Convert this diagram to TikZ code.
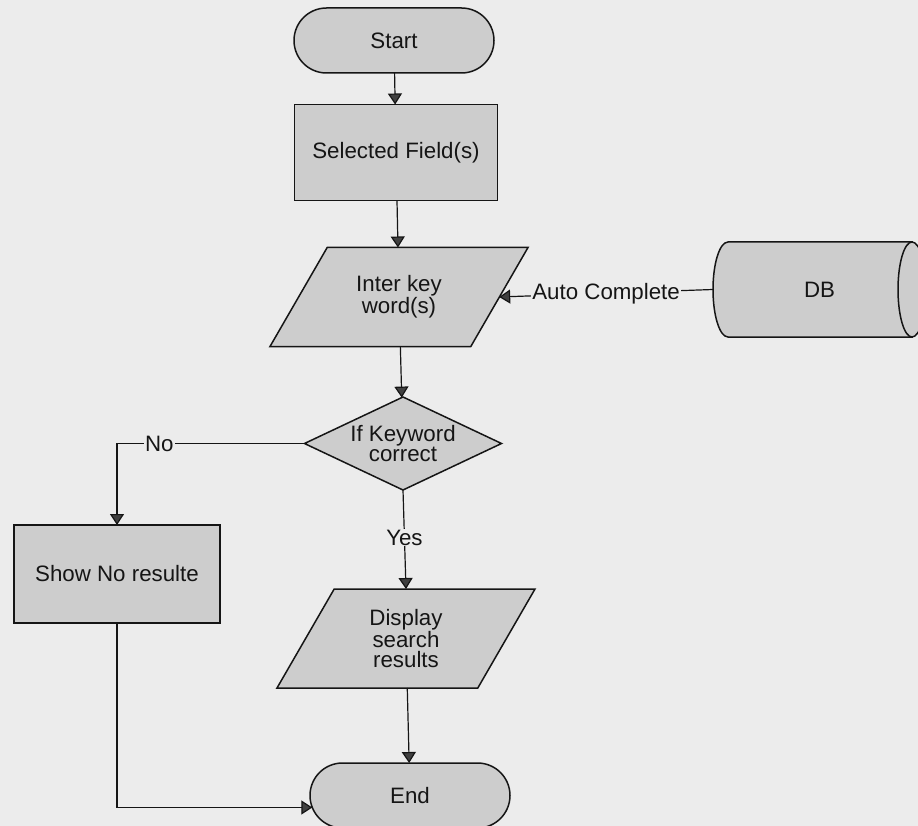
\documentclass[tikz,border=0pt]{standalone}
\usepackage{fontspec}
\setmainfont{Liberation Sans}
\usetikzlibrary{shapes.geometric,shapes.misc,arrows.meta,calc}
\definecolor{paper}{HTML}{ECECEC}
\definecolor{boxfill}{HTML}{CDCDCD}
\definecolor{ink}{HTML}{151515}
\definecolor{tipfill}{HTML}{404040}
% slanted input/output box: name, centre x, centre y, text
\newcommand\ioshape[4]{%
  \path[shp] (#2-71.8,#3-49.5) -- (#2+129,#3-49.5) -- (#2+71.8,#3+49.5)
    -- (#2-129,#3+49.5) -- cycle;
  \node[iotext] (#1) at (#2,#3) {#4};}
\begin{document}
\begin{tikzpicture}[x=1pt,y=-1pt,
  font=\fontsize{22.3}{20.5}\selectfont,
  every node/.style={text=ink},
  shp/.style={draw=ink, fill=boxfill, line width=1.5pt, outer sep=0pt, inner sep=0pt},
  term/.style={shp, rounded rectangle, minimum width=200pt, minimum height=65pt},
  proc/.style={shp, rectangle, minimum width=203pt, minimum height=96pt},
  iotext/.style={rectangle, minimum width=200.4pt, minimum height=99pt,
    inner sep=0pt, outer sep=0pt, align=center},
  decide/.style={shp, diamond, minimum width=197pt, minimum height=93pt},
  inside/.style={label={[align=center, text=ink]center:#1}},
  arr/.style={draw=ink, line width=1.2pt,
    -{Triangle[length=11pt, width=14pt, fill=tipfill]}},
  lbl/.style={fill=paper, inner sep=1pt}]

% page
\fill[paper] (0,0) rectangle (918,826);
\useasboundingbox (0,0) rectangle (918,826);

% flow nodes
\node[term] (start) at (394,40.5) {Start};
\node[proc] (sel) at (396,152.5) {Selected Field(s)};
\ioshape{key}{399}{297}{Inter key\\word(s)}
\node[decide, inside={If Keyword\\correct}] (dec) at (403,443.5) {};
\node[proc, minimum width=206pt, minimum height=98pt] (nores) at (117,574) {Show No resulte};
\ioshape{disp}{406}{638.5}{Display\\search\\results}
\node[term] (stop) at (410,795.5) {End};

% database cylinder (axis horizontal, open face on the right)
\path[shp] (728,242) -- (912,242) -- (912,337) -- (728,337)
  arc[start angle=90, end angle=270, x radius=15, y radius=47.5] -- cycle;
\path[shp] (912,289.5) ellipse[x radius=14, y radius=47.5];
\node[minimum width=213pt, minimum height=95pt, inner sep=0pt, outer sep=0pt] (db) at (819.5,289.5) {DB};

% connectors
\draw[arr] (start) -- (sel);
\draw[arr] (sel) -- (key);
\draw[arr] (db.west) -- node[lbl] {Auto Complete} (key.east);
\draw[arr] (key) -- (dec);
\draw[arr] (dec.west) -| node[lbl, pos=0.387] {No} (nores.north);
\draw[arr] (dec.south) -- node[lbl, pos=0.48] {Yes} (disp.north);
\draw[arr] (disp) -- (stop);
\draw[arr] (nores.south) |- (stop.187);
\end{tikzpicture}
\end{document}
